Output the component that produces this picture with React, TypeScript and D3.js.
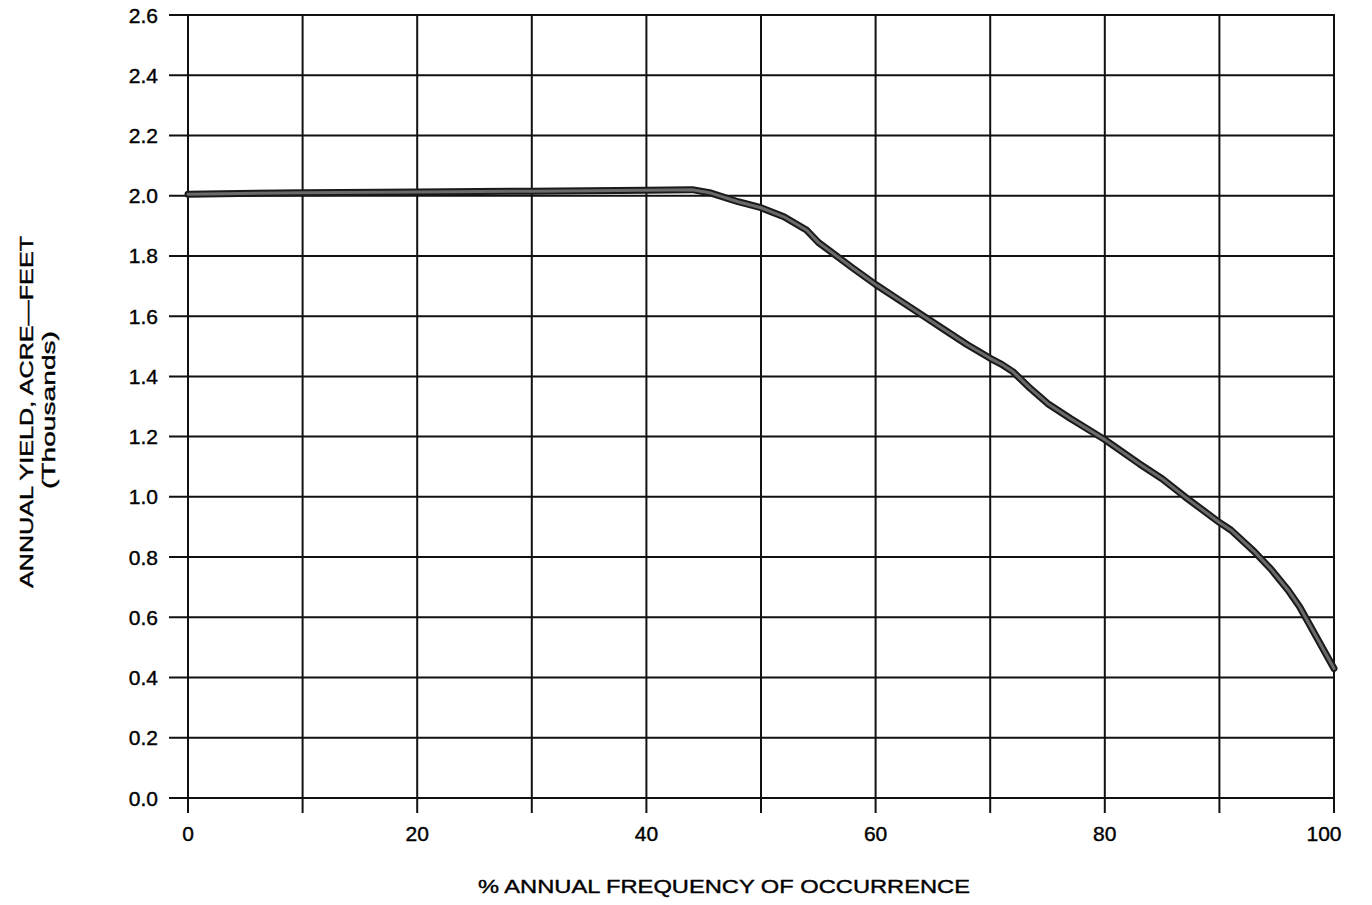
import React from 'react'
import * as d3 from 'd3'

// % annual frequency of occurrence
const freq = [0, 10, 20, 30, 40, 44, 45.5, 48, 50, 52, 54, 55, 58, 60, 62, 64, 66, 68, 70, 71, 72, 73.5, 75, 77, 80, 83, 85, 87, 90, 91, 93, 94.5, 96, 97, 100]
// annual yield, acre-feet (thousands)
const yieldK = [2.005, 2.01, 2.012, 2.015, 2.018, 2.02, 2.01, 1.98, 1.96, 1.93, 1.885, 1.845, 1.76, 1.705, 1.655, 1.605, 1.555, 1.505, 1.46, 1.44, 1.415, 1.36, 1.31, 1.26, 1.19, 1.11, 1.06, 1.0, 0.915, 0.89, 0.82, 0.76, 0.69, 0.635, 0.43]

const xGrid = d3.range(0, 101, 10)
const xLabels = [0, 20, 40, 60, 80, 100]
const yGrid = d3.range(0, 2.61, 0.2)

const xTitle = '% ANNUAL FREQUENCY OF OCCURRENCE'
const yTitle = 'ANNUAL YIELD, ACRE\u2014FEET'
const ySubTitle = '(Thousands)'

export default function App() {
    const width = 1372,
        height = 905

    const x = d3.scaleLinear([0, 100], [188, 1334])
    const y = d3.scaleLinear([0, 2.6], [798, 15])

    const points = freq.map((f, i) => [f, yieldK[i]])
    const line = d3.line()
        .x(d => x(d[0]))
        .y(d => y(d[1]))

    const font = '"Liberation Sans", Arial, sans-serif'
    const txt = { fill: '#000', stroke: '#000', strokeWidth: 0.4 }

    return <svg width={width} height={height} style={{ position: 'absolute', left: 0, top: 0, background: '#fff' }}
        fontFamily={font}>
        {/* grid + ticks */}
        {yGrid.map(v => <line key={'h' + v} x1={x(0) - 19} x2={x(100)} y1={y(v)} y2={y(v)}
            stroke="#111" strokeWidth={2} />)}
        {xGrid.map(v => <line key={'v' + v} x1={x(v)} x2={x(v)} y1={y(2.6) - 1} y2={y(0) + 15}
            stroke="#111" strokeWidth={2} />)}

        {/* y tick labels */}
        {yGrid.map(v => <text key={'yl' + v} x={x(0) - 30} y={y(v)} dy="0.36em" textAnchor="end"
            fontSize={21} {...txt}>{v.toFixed(1)}</text>)}

        {/* x tick labels */}
        {xLabels.map(v => <text key={'xl' + v} x={x(v) - (v === 100 ? 10 : 0)} y={y(0) + 43} textAnchor="middle"
            fontSize={21} {...txt}>{v}</text>)}

        {/* curve */}
        <path d={line(points)} fill="none" stroke="#1a1a1a" strokeWidth={7} strokeLinejoin="round" strokeLinecap="round" />
        <path d={line(points)} fill="none" stroke="#6a6a6a" strokeWidth={3} strokeLinejoin="round" strokeLinecap="round" />

        {/* axis titles */}
        <text x={724} y={893} textAnchor="middle" fontSize={19} {...txt}
            textLength={492} lengthAdjust="spacingAndGlyphs">{xTitle}</text>
        <text transform="translate(33,412) rotate(-90)" textAnchor="middle" fontSize={19} {...txt}
            textLength={352} lengthAdjust="spacingAndGlyphs">{yTitle}</text>
        <text transform="translate(55,410) rotate(-90)" textAnchor="middle" fontSize={19} {...txt}
            textLength={158} lengthAdjust="spacingAndGlyphs">{ySubTitle}</text>
    </svg>
}
